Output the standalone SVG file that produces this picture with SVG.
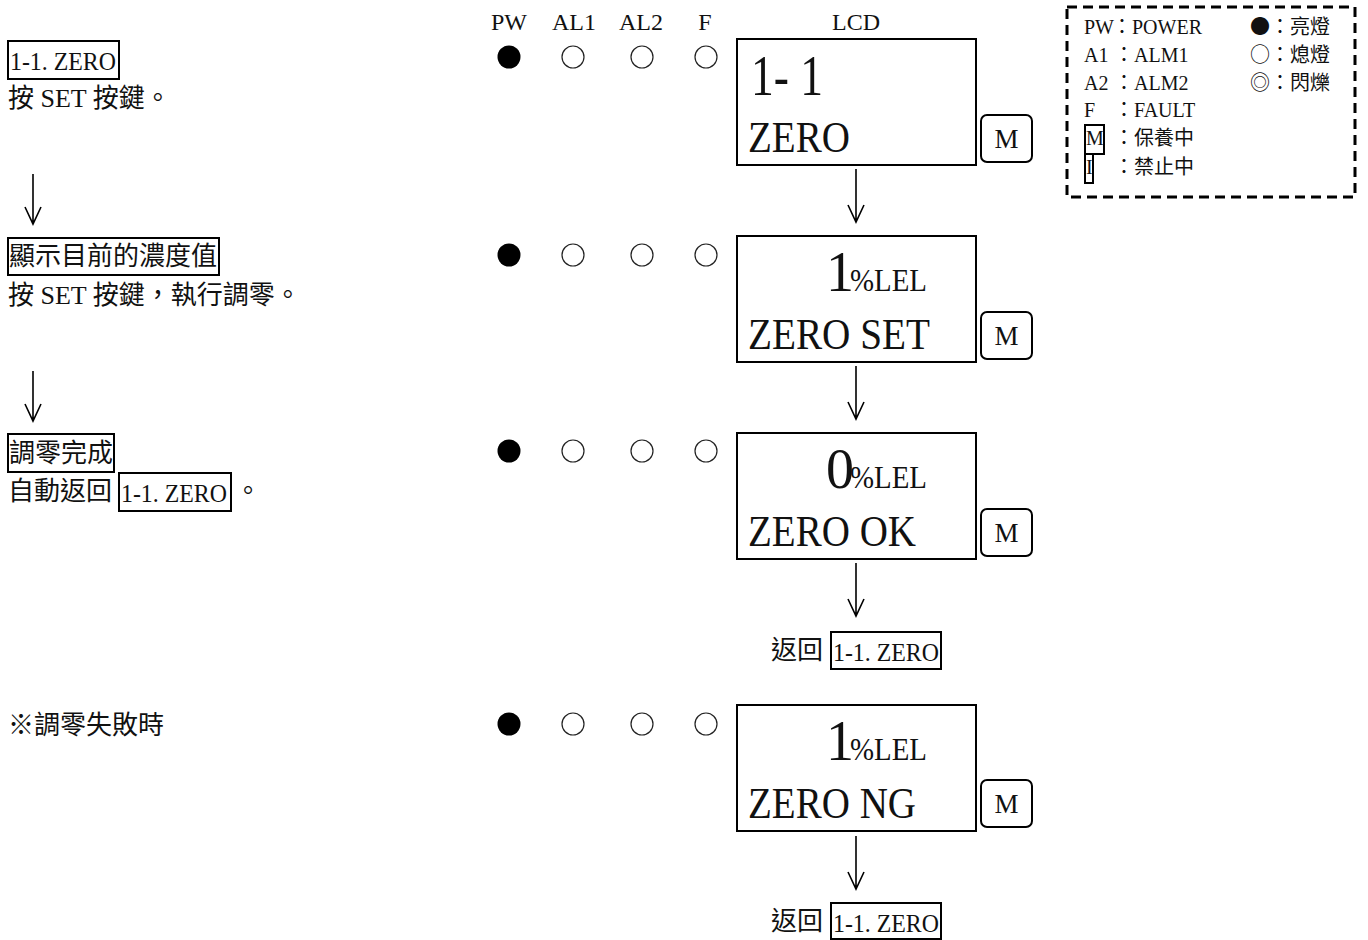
<svg xmlns="http://www.w3.org/2000/svg" width="1368" height="940" viewBox="0 0 1368 940">
<defs>
<style>
text{font-family:'Liberation Serif','Noto Sans CJK TC',serif;fill:#111;}
.t{font-size:26px;}
.h{font-size:24px;text-anchor:middle;}
.lg{font-size:20px;}
.cjk{font-family:'Noto Sans CJK TC','Liberation Serif',sans-serif;}
.box{fill:none;stroke:#000;stroke-width:2;}
.lcd{fill:#fff;stroke:#000;stroke-width:2;}
.btn{fill:#fff;stroke:#000;stroke-width:2;}
.big{font-size:56px;}
.mid{font-size:44px;}
.unit{font-size:32px;}
.m{font-size:27px;text-anchor:middle;}
.on{fill:#000;}
.off{fill:#fff;stroke:#222;stroke-width:1.2;}
.arr{fill:none;stroke:#000;stroke-width:1.6;}
</style>
</defs>
<rect width="1368" height="940" fill="#fff"/>

<g id="headers">
<text class="h" x="509" y="30">PW</text>
<text class="h" x="574" y="30">AL1</text>
<text class="h" x="641" y="30">AL2</text>
<text class="h" x="705" y="30">F</text>
<text class="h" x="856" y="30">LCD</text>
</g>

<g id="step1-text">
<rect class="box" x="8" y="41" width="111" height="38"/>
<text class="t" x="10" y="70" textLength="106" lengthAdjust="spacingAndGlyphs">1-1. ZERO</text>
<text class="t" x="8" y="107">按 SET 按鍵。</text>
</g>
<g id="step2-text">
<rect class="box" x="8" y="238" width="211" height="37"/>
<text class="t" x="9" y="265">顯示目前的濃度值</text>
<text class="t" x="8" y="304">按 SET 按鍵，執行調零。</text>
</g>
<g id="step3-text">
<rect class="box" x="8" y="434" width="106" height="38"/>
<text class="t" x="9" y="462">調零完成</text>
<text class="t" x="8" y="500">自動返回</text>
<rect class="box" x="119" y="473" width="112" height="38"/>
<text class="t" x="121" y="502" textLength="106" lengthAdjust="spacingAndGlyphs">1-1. ZERO</text>
<text class="t" x="235" y="500">。</text>
</g>
<g id="step4-text">
<text class="t" x="8" y="734">※調零失敗時</text>
</g>

<g id="leds1">
<circle class="on" cx="509" cy="57" r="11.5"/>
<circle class="off" cx="573" cy="57" r="11"/>
<circle class="off" cx="642" cy="57" r="11"/>
<circle class="off" cx="706" cy="57" r="11"/>
</g>
<g id="leds2">
<circle class="on" cx="509" cy="255" r="11.5"/>
<circle class="off" cx="573" cy="255" r="11"/>
<circle class="off" cx="642" cy="255" r="11"/>
<circle class="off" cx="706" cy="255" r="11"/>
</g>
<g id="leds3">
<circle class="on" cx="509" cy="451" r="11.5"/>
<circle class="off" cx="573" cy="451" r="11"/>
<circle class="off" cx="642" cy="451" r="11"/>
<circle class="off" cx="706" cy="451" r="11"/>
</g>
<g id="leds4">
<circle class="on" cx="509" cy="724" r="11.5"/>
<circle class="off" cx="573" cy="724" r="11"/>
<circle class="off" cx="642" cy="724" r="11"/>
<circle class="off" cx="706" cy="724" r="11"/>
</g>

<g id="lcd1">
<rect class="lcd" x="737" y="39" width="239" height="126"/>
<text class="big" x="751" y="95" textLength="72" lengthAdjust="spacingAndGlyphs">1- 1</text>
<text class="mid" x="748" y="152" textLength="102" lengthAdjust="spacingAndGlyphs">ZERO</text>
</g>
<g id="btn1"><rect class="btn" x="981" y="115" width="51" height="47" rx="6"/><text class="m" x="1006.5" y="148">M</text></g>

<g id="lcd2">
<rect class="lcd" x="737" y="236" width="239" height="126"/>
<text class="big" x="826" y="291">1</text>
<text class="unit" x="850" y="291" textLength="77" lengthAdjust="spacingAndGlyphs">%LEL</text>
<text class="mid" x="748" y="349" textLength="182" lengthAdjust="spacingAndGlyphs">ZERO SET</text>
</g>
<g id="btn2"><rect class="btn" x="981" y="312" width="51" height="47" rx="6"/><text class="m" x="1006.5" y="345">M</text></g>

<g id="lcd3">
<rect class="lcd" x="737" y="433" width="239" height="126"/>
<text class="big" x="826" y="488">0</text>
<text class="unit" x="850" y="488" textLength="77" lengthAdjust="spacingAndGlyphs">%LEL</text>
<text class="mid" x="748" y="546" textLength="168" lengthAdjust="spacingAndGlyphs">ZERO OK</text>
</g>
<g id="btn3"><rect class="btn" x="981" y="509" width="51" height="47" rx="6"/><text class="m" x="1006.5" y="542">M</text></g>

<g id="lcd4">
<rect class="lcd" x="737" y="705" width="239" height="126"/>
<text class="big" x="826" y="760">1</text>
<text class="unit" x="850" y="760" textLength="77" lengthAdjust="spacingAndGlyphs">%LEL</text>
<text class="mid" x="748" y="818" textLength="168" lengthAdjust="spacingAndGlyphs">ZERO NG</text>
</g>
<g id="btn4"><rect class="btn" x="981" y="780" width="51" height="47" rx="6"/><text class="m" x="1006.5" y="813">M</text></g>

<g id="return1">
<text class="t" x="771" y="659">返回</text>
<rect class="box" x="831" y="632" width="110" height="37"/>
<text class="t" x="833" y="661" textLength="106" lengthAdjust="spacingAndGlyphs">1-1. ZERO</text>
</g>
<g id="return2">
<text class="t" x="771" y="930">返回</text>
<rect class="box" x="831" y="903" width="110" height="36"/>
<text class="t" x="833" y="932" textLength="106" lengthAdjust="spacingAndGlyphs">1-1. ZERO</text>
</g>

<g id="legend">
<rect x="1067" y="7" width="288" height="190" fill="none" stroke="#000" stroke-width="3" stroke-dasharray="10 6"/>
<text class="lg" x="1084" y="34">PW</text><text class="lg" x="1112" y="34">：POWER</text>
<text class="lg" x="1084" y="62">A1</text><text class="lg" x="1114" y="62">：ALM1</text>
<text class="lg" x="1084" y="90">A2</text><text class="lg" x="1114" y="90">：ALM2</text>
<text class="lg" x="1084" y="117">F</text><text class="lg" x="1114" y="117">：FAULT</text>
<rect class="box" x="1085" y="125" width="19" height="29"/>
<text class="lg" x="1086" y="145">M</text><text class="lg" x="1114" y="145">：保養中</text>
<rect class="box" x="1085" y="154" width="8" height="29"/>
<text class="lg" x="1086" y="174">I</text><text class="lg" x="1114" y="174">：禁止中</text>
<text class="lg cjk" x="1250" y="34">●：亮燈</text>
<text class="lg cjk" x="1250" y="62">○：熄燈</text>
<text class="lg cjk" x="1250" y="90">◎：閃爍</text>
</g>

<g id="connectors">
<path class="arr" d="M33 174V224M25 207L33 224L41 207"/>
<path class="arr" d="M33 371V421M25 404L33 421L41 404"/>
<path class="arr" d="M856 169V222M848 205L856 222L864 205"/>
<path class="arr" d="M856 366V419M848 402L856 419L864 402"/>
<path class="arr" d="M856 563V616M848 599L856 616L864 599"/>
<path class="arr" d="M856 836V889M848 872L856 889L864 872"/>
</g>
</svg>
